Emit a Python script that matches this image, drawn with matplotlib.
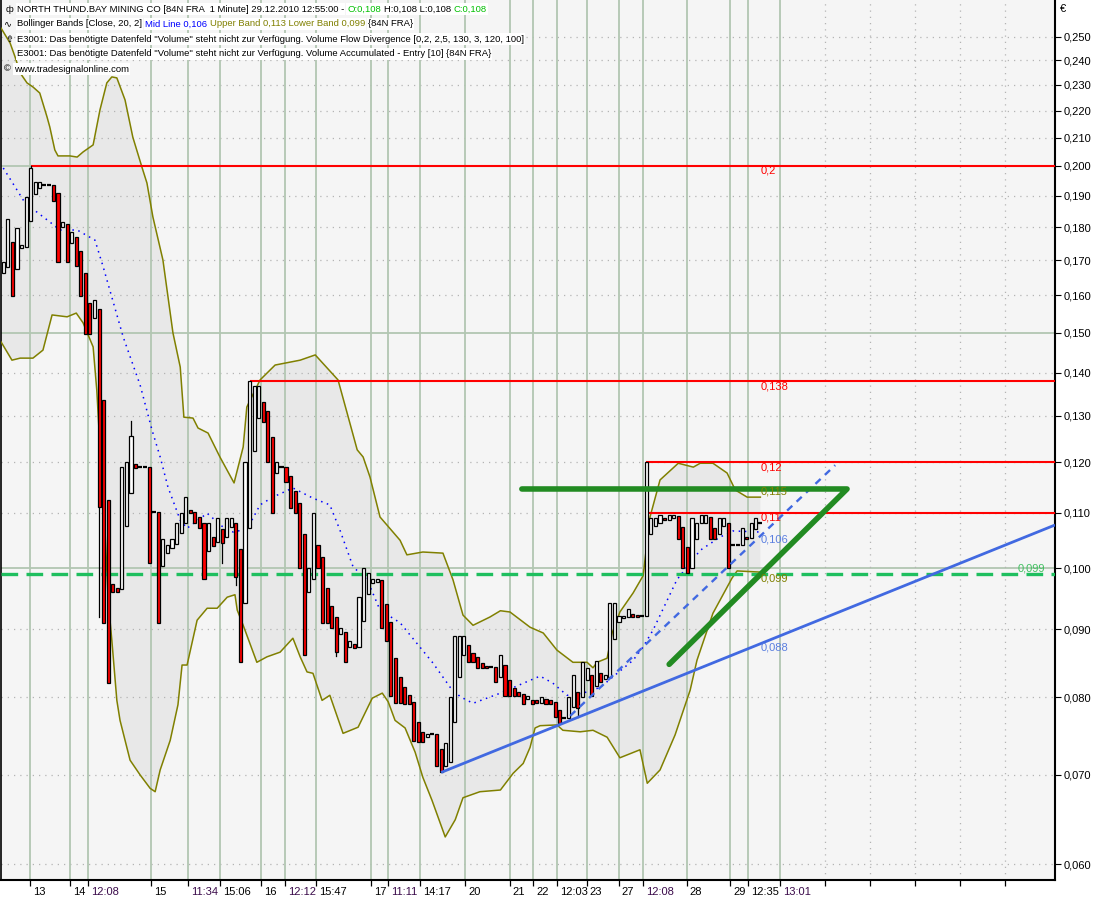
import matplotlib
matplotlib.use("Agg")
import matplotlib.pyplot as plt
from matplotlib.ticker import NullLocator, FixedLocator, FixedFormatter
from matplotlib.transforms import ScaledTranslation

plt.rcParams['font.family'] = ['Liberation Sans', 'DejaVu Sans']

# ---------------- data (bar index = 1-minute bar) ----------------
opens = [0.1663, 0.1681, 0.1755, 0.1675, 0.1737, 0.1740, 0.1819, 0.1906, 0.1926, 0.1936,
         0.1936, 0.1936, 0.1909, 0.1800, 0.1810, 0.1752, 0.1770, 0.1728, 0.1663, 0.1579,
         0.1539, 0.1563, 0.1336, 0.1124, 0.0973, 0.0966, 0.0964, 0.1075, 0.1138, 0.1196,
         0.1190, 0.1190, 0.1190, 0.1101, 0.1101, 0.1003, 0.1026, 0.1035, 0.1042, 0.1062,
         0.1081, 0.1105, 0.1101, 0.1092, 0.1081, 0.1030, 0.1055, 0.1046, 0.1070, 0.1055,
         0.1073, 0.1081, 0.1033, 0.0941, 0.1071, 0.1224, 0.1295, 0.1331, 0.1311, 0.1253,
         0.1178, 0.1190, 0.1190, 0.1172, 0.1142, 0.1119, 0.1060, 0.0959, 0.0981, 0.1040,
         0.1019, 0.0966, 0.0937, 0.0919, 0.0892, 0.0896, 0.0873, 0.0877, 0.0873, 0.0913,
         0.0956, 0.0974, 0.0977, 0.0980, 0.0940, 0.0911, 0.0856, 0.0829, 0.0814, 0.0803,
         0.0794, 0.0767, 0.0754, 0.0747, 0.0751, 0.0751, 0.0732, 0.0711, 0.0716, 0.0767,
         0.0829, 0.0861, 0.0876, 0.0863, 0.0858, 0.0849, 0.0845, 0.0843, 0.0843, 0.0829,
         0.0846, 0.0824, 0.0813, 0.0808, 0.0805, 0.0798, 0.0796, 0.0796, 0.0792, 0.0798,
         0.0796, 0.0794, 0.0783, 0.0772, 0.0772, 0.0787, 0.0808, 0.0801, 0.0824, 0.0832,
         0.0816, 0.0834, 0.0826, 0.0829, 0.0885, 0.0911, 0.0918, 0.0919, 0.0924, 0.0922,
         0.0921, 0.0921, 0.1060, 0.1075, 0.1081, 0.1090, 0.1086, 0.1090, 0.1094, 0.1073,
         0.1037, 0.1000, 0.1051, 0.1081, 0.1081, 0.1092, 0.1071, 0.1060, 0.1075, 0.1081,
         0.1040, 0.1040, 0.1040, 0.1055, 0.1053, 0.1070, 0.1081]
closes = [0.1695, 0.1825, 0.1598, 0.1797, 0.1746, 0.1896, 0.1993, 0.1946, 0.1946, 0.1936,
          0.1936, 0.1883, 0.1695, 0.1816, 0.1695, 0.1785, 0.1683, 0.1598, 0.1497, 0.1497,
          0.1587, 0.1111, 0.0910, 0.0820, 0.0959, 0.0959, 0.1190, 0.1201, 0.1256, 0.1188,
          0.1190, 0.1190, 0.1009, 0.1101, 0.0910, 0.1051, 0.1040, 0.1051, 0.1081, 0.1099,
          0.1130, 0.1099, 0.1081, 0.1071, 0.0981, 0.1081, 0.1039, 0.1090, 0.1044, 0.1090,
          0.1090, 0.0985, 0.0850, 0.1201, 0.1380, 0.1369, 0.1369, 0.1286, 0.1201, 0.1099,
          0.1201, 0.1190, 0.1160, 0.1109, 0.1099, 0.1000, 0.0861, 0.1000, 0.1099, 0.1000,
          0.0910, 0.0910, 0.0902, 0.0865, 0.0902, 0.0850, 0.0882, 0.0871, 0.0951, 0.1000,
          0.0991, 0.0981, 0.0981, 0.0902, 0.0882, 0.0802, 0.0792, 0.0792, 0.0791, 0.0791,
          0.0742, 0.0741, 0.0741, 0.0751, 0.0751, 0.0711, 0.0703, 0.0740, 0.0801, 0.0889,
          0.0889, 0.0889, 0.0850, 0.0850, 0.0842, 0.0842, 0.0842, 0.0843, 0.0822, 0.0861,
          0.0802, 0.0802, 0.0802, 0.0802, 0.0791, 0.0802, 0.0791, 0.0792, 0.0801, 0.0791,
          0.0791, 0.0773, 0.0765, 0.0772, 0.0801, 0.0832, 0.0786, 0.0850, 0.0842, 0.0802,
          0.0852, 0.0822, 0.0832, 0.0941, 0.0941, 0.0921, 0.0921, 0.0932, 0.0919, 0.0919,
          0.0921, 0.1201, 0.1090, 0.1090, 0.1096, 0.1086, 0.1096, 0.1096, 0.1051, 0.1000,
          0.0991, 0.1090, 0.1081, 0.1096, 0.1096, 0.1051, 0.1051, 0.1090, 0.1090, 0.1000,
          0.1040, 0.1040, 0.1071, 0.1051, 0.1081, 0.1090, 0.1081]
wick_hi_idx = [6, 28]
wick_hi_val = [0.2000, 0.1288]
wick_lo_idx = [21, 48, 51, 73, 126]
wick_lo_val = [0.0919, 0.1009, 0.0971, 0.0859, 0.0774]

# Bollinger Bands [Close, 20, 2] (bar index, price)
upper_x = [-0.5, 1.5, 2.6, 3.7, 5.2, 6.5, 8.0, 9.6, 10.2, 11.3, 12.0, 14.6, 16.2, 17.5, 19.7,
           21.2, 22.7, 23.8, 24.9, 26.7, 28.4, 30.4, 31.5, 32.8, 35.0, 37.2, 38.8, 39.6,
           41.6, 42.7, 44.9, 47.5, 50.6, 52.6, 53.4, 56.3, 59.6, 65.1, 68.4, 73.4, 75.4,
           77.6, 78.9, 80.4, 82.6, 87.0, 88.5, 92.0, 96.4, 98.6, 100.8, 103.0, 106.7, 109.0,
           111.1, 115.5, 118.4, 121.4, 124.9, 128.0, 129.3, 130.2, 132.4, 133.5, 135.2, 138.1,
           140.3, 141.8, 144.0, 148.0, 151.3, 152.8, 155.6, 158.7, 160.5, 163.1, 166.0]
upper_y = [0.2537, 0.2472, 0.2413, 0.2348, 0.2308, 0.2292, 0.2268, 0.2176, 0.2139, 0.2056,
           0.2035, 0.2035, 0.2031, 0.2049, 0.2074, 0.2203, 0.2308, 0.2332, 0.2328, 0.2241,
           0.2102, 0.1996, 0.1942, 0.1832, 0.1701, 0.1500, 0.1414, 0.1297, 0.1295, 0.1273,
           0.1262, 0.1211, 0.1158, 0.1232, 0.1320, 0.1383, 0.1419, 0.1431, 0.1444, 0.1383,
           0.1306, 0.1226, 0.1211, 0.1170, 0.1092, 0.1049, 0.1023, 0.1028, 0.1026, 0.0980,
           0.0922, 0.0906, 0.0919, 0.0929, 0.0927, 0.0903, 0.0894, 0.0868, 0.0850, 0.0850,
           0.0842, 0.0850, 0.0856, 0.0894, 0.0927, 0.0958, 0.0987, 0.1092, 0.1164, 0.1198,
           0.1190, 0.1198, 0.1198, 0.1178, 0.1144, 0.1130, 0.1130]
lower_x = [-0.5, 1.9, 3.7, 6.5, 8.7, 10.7, 14.0, 16.0, 17.5, 19.7, 20.5, 21.2, 22.3, 23.0,
           23.8, 24.9, 25.6, 27.8, 30.0, 32.2, 33.3, 34.4, 36.6, 38.3, 39.2, 40.3, 42.5,
           44.7, 46.9, 49.1, 50.8, 51.3, 52.6, 55.6, 57.8, 60.7, 63.5, 65.1, 66.6, 67.9,
           69.9, 71.6, 74.5, 77.8, 80.9, 83.1, 84.4, 85.9, 88.1, 90.3, 92.0, 94.0, 96.9,
           99.1, 100.8, 104.5, 109.0, 111.8, 114.0, 115.5, 116.6, 117.7, 121.4, 122.7, 126.5,
           129.3, 132.4, 135.2, 139.6, 141.2, 144.0, 147.3, 150.6, 152.1, 155.6, 159.8, 160.9,
           166.0]
lower_y = [0.1477, 0.1431, 0.1436, 0.1436, 0.1456, 0.1547, 0.1542, 0.1552, 0.1526, 0.1464,
           0.1359, 0.1232, 0.1068, 0.0946, 0.0883, 0.0796, 0.0769, 0.0718, 0.0700, 0.0684,
           0.0680, 0.0706, 0.0743, 0.0790, 0.0846, 0.0846, 0.0914, 0.0933, 0.0933, 0.0951,
           0.0955, 0.0930, 0.0906, 0.0850, 0.0858, 0.0865, 0.0886, 0.0858, 0.0836, 0.0834,
           0.0796, 0.0803, 0.0752, 0.0760, 0.0799, 0.0806, 0.0794, 0.0769, 0.0759, 0.0728,
           0.0697, 0.0670, 0.0629, 0.0648, 0.0673, 0.0680, 0.0682, 0.0702, 0.0714, 0.0734,
           0.0759, 0.0762, 0.0763, 0.0756, 0.0754, 0.0756, 0.0747, 0.0721, 0.0731, 0.0690,
           0.0706, 0.0750, 0.0810, 0.0853, 0.0925, 0.0983, 0.0995, 0.0993]
mid_x = [0, 4.8, 10.2, 12.4, 16.2, 20.1, 21.9, 26.3, 30.0, 32.6, 34.4, 36.1, 38.8, 40.3,
         44.7, 48.2, 50.4, 52.6, 54.5, 56.3, 59.1, 63.5, 67.9, 71.6, 73.8, 76.7, 79.8, 82.6,
         87.0, 94.2, 98.0, 100.2, 103.0, 109.0, 114.8, 117.7, 120.5, 123.6, 127.1, 130.9,
         134.6, 138.1, 140.3, 142.5, 147.7, 152.8, 157.2, 160.0, 166.0]
mid_y = [0.1993, 0.1876, 0.1816, 0.1791, 0.1791, 0.1760, 0.1681, 0.1489, 0.1371, 0.1269,
         0.1211, 0.1150, 0.1086, 0.1071, 0.1099, 0.1073, 0.1064, 0.1068, 0.1086, 0.1115,
         0.1130, 0.1148, 0.1128, 0.1115, 0.1068, 0.1002, 0.0980, 0.0930, 0.0910, 0.0849,
         0.0814, 0.0801, 0.0792, 0.0806, 0.0822, 0.0830, 0.0820, 0.0803, 0.0806, 0.0814,
         0.0834, 0.0853, 0.0873, 0.0899, 0.0980, 0.1031, 0.1055, 0.1066, 0.1064]

# axis ticks
xtick_pos = [5.9, 14.6, 18.6, 32.4, 40.5, 47.5, 56.5, 61.8, 68.6, 80.6, 84.4, 91.4, 101.3,
             111.1, 116.2, 121.4, 128.0, 135.0, 140.3, 149.9, 159.4, 163.3, 170.3,
             180.2, 190.1, 200.0, 209.8, 219.7]
xtick_labels = ["13", "14", "12:08", "15", "11:34", "15:06", "16", "12:12", "15:47", "17",
                "11:11", "14:17", "20", "21", "22", "12:03", "23", "27", "12:08", "28",
                "29", "12:35", "13:01", "", "", "", "", ""]
time_labels = ["12:08", "11:34", "12:12", "11:11", "13:01"]
ytick_vals = [0.06, 0.07, 0.08, 0.09, 0.10, 0.11, 0.12, 0.13, 0.14, 0.15, 0.16, 0.17,
              0.18, 0.19, 0.20, 0.21, 0.22, 0.23, 0.24, 0.25]
major_grid = [0.10, 0.15, 0.20]

# drawing tools
red_levels = [0.2, 0.138, 0.12, 0.11]
red_start = [6, 54, 141, 141]
green_level = 0.099
trend_x = [96, 230.6]
trend_y = [0.0703, 0.1077]
dash_x = [124.3, 182.4]
dash_y = [0.0775, 0.1194]
thick_x = [113.7, 185.0, 146.0]
thick_y = [0.1146, 0.1146, 0.0847]
value_labels = ["0,2", "0,138", "0,12", "0,115", "0,11", "0,106", "0,099", "0,088"]
value_pos = [0.2, 0.138, 0.12, 0.115, 0.11, 0.106, 0.099, 0.088]
value_cols = ["#ff0000", "#ff0000", "#ff0000", "#808000", "#ff0000", "#5b7fe0",
              "#808000", "#5b7fe0"]

# ---------------- figure ----------------
W, H = 1100, 900
fig = plt.figure(figsize=(W / 100, H / 100), dpi=100, facecolor="white")
ax = fig.add_axes([1 / W, 20 / H, 1054 / W, 880 / H])
ax.set_facecolor("#f5f5f5")
ax.set_yscale("log")
XMIN, XMAX = -0.5, 230.6
ax.set_xlim(XMIN, XMAX)
ax.set_ylim(0.0584, 0.26626)

last = len(closes) - 1

# Bollinger fill
poly_x = upper_x + lower_x[::-1]
poly_y = upper_y + lower_y[::-1]
ax.fill(poly_x, poly_y, color="#e8e8e8", zorder=1, lw=0)

# grid
for v in ytick_vals:
    if any(abs(v - m) < 1e-9 for m in major_grid):
        ax.axhline(v, color="#b2c6b2", lw=1.3, zorder=2)
    else:
        ax.axhline(v, color="#b4b4b4", lw=0.9, ls=(0, (1, 4)), zorder=2)
for p, lab in zip(xtick_pos, xtick_labels):
    if lab:
        ax.axvline(p, color="#b2c6b2", lw=1.3, zorder=2)
    else:
        ax.axvline(p, color="#b4b4b4", lw=0.9, ls=(0, (1, 4)), zorder=2)

# bands
ax.plot(upper_x, upper_y, color="#808000", lw=1.1, zorder=3)
ax.plot(lower_x, lower_y, color="#808000", lw=1.1, zorder=3)
ax.plot(mid_x, mid_y, color="#0000ff", lw=1.1, ls=(0, (1, 3)), zorder=3)

# red levels
for lv, s in zip(red_levels, red_start):
    ax.plot([s, XMAX], [lv, lv], color="#ff0000", lw=1.5, zorder=4,
            solid_capstyle="butt")

# green dashed level
ax.axhline(green_level, color="#1fbf5f", lw=2.4, ls=(0, (5, 2.5)), zorder=6)

# candles
wbody = 0.68
for i, (o, c) in enumerate(zip(opens, closes)):
    lo, hi = min(o, c), max(o, c)
    if i in wick_hi_idx:
        ax.plot([i, i], [hi, wick_hi_val[wick_hi_idx.index(i)]], color="black", lw=0.9, zorder=7)
    if i in wick_lo_idx:
        ax.plot([i, i], [wick_lo_val[wick_lo_idx.index(i)], lo], color="black", lw=0.9, zorder=7)
    if abs(c - o) < 1e-9:
        ax.plot([i - 0.45, i + 0.45], [o, o], color="black", lw=1.6, zorder=8,
                solid_capstyle="butt")
        continue
    face = "#ff0000" if c < o else "white"
    ax.bar(i, hi - lo, bottom=lo, width=wbody, color=face, edgecolor="black",
           linewidth=0.9, zorder=8)

# trend lines
ax.plot(trend_x, trend_y, color="#4169e1", lw=2.0, zorder=9, solid_capstyle="butt")
ax.plot(dash_x, dash_y, color="#4169e1", lw=1.7, ls=(0, (3, 2.5)), zorder=9)
ax.plot(thick_x, thick_y, color="#228b22", lw=4.0, zorder=10,
        solid_capstyle="round", solid_joinstyle="round")

# value labels
for t, v, col in zip(value_labels, value_pos, value_cols):
    ax.text(last + 0.1, v, t, color=col, fontsize=8, ha="left", va="top", zorder=11)
ax.text(222.5, green_level, "0,099", color="#40c060", fontsize=8, ha="left",
        va="bottom", zorder=11)

# axes styling
ax.spines["top"].set_visible(False)
ax.spines["left"].set_color("black")
ax.spines["left"].set_linewidth(1.2)
ax.spines["right"].set_linewidth(1.5)
ax.spines["bottom"].set_linewidth(1.5)

ax.yaxis.tick_right()
ax.yaxis.set_major_locator(FixedLocator(ytick_vals))
ax.yaxis.set_major_formatter(FixedFormatter(["0,%03d" % round(v * 1000) for v in ytick_vals]))
ax.yaxis.set_minor_locator(NullLocator())
ax.tick_params(axis="y", which="major", direction="out", length=4, width=0.8,
               labelsize=8, pad=2, colors="black")

ax.xaxis.set_major_locator(FixedLocator(xtick_pos))
ax.xaxis.set_major_formatter(FixedFormatter(xtick_labels))
ax.xaxis.set_minor_locator(NullLocator())
ax.tick_params(axis="x", which="major", direction="out", length=4, width=0.9,
               labelsize=8, pad=1)
offset = ScaledTranslation(2 / 72, 0, fig.dpi_scale_trans)
for lab in ax.get_xticklabels():
    lab.set_horizontalalignment("left")
    lab.set_transform(lab.get_transform() + offset)
    if lab.get_text() in time_labels:
        lab.set_color("#3a0a4a")

fig.text(1060 / W, 1 - 9 / H, "€", fontsize=8, va="center", ha="left")

# header legend
renderer = fig.canvas.get_renderer()
HFS = 6.8
SP = 2.8


def seg_line(x0, ypix, segments, icon=None, icon_x=5):
    if icon:
        fig.text(icon_x / W, 1 - ypix / H, icon, color="black", fontsize=HFS, ha="left",
                 va="center", zorder=20)
    x = x0
    for s, col in segments:
        if s == " ":
            x += SP
            continue
        t = fig.text(x / W, 1 - ypix / H, s, color=col, fontsize=HFS, ha="left", va="center",
                     bbox=dict(facecolor="white", edgecolor="none", pad=0.9), zorder=20)
        x += t.get_window_extent(renderer=renderer).width


seg_line(17, 9, [("NORTH THUND.BAY MINING CO [84N FRA  1 Minute] 29.12.2010 12:55:00 -", "black"),
                 (" ", None), ("O:0,108", "#00c000"), (" ", None),
                 ("H:0,108 L:0,108", "black"), (" ", None), ("C:0,108", "#00c000")],
         icon="ф", icon_x=6)
seg_line(17, 24, [("Bollinger Bands [Close, 20, 2]", "black"), (" ", None),
                  ("Mid Line 0,106", "#0000ff"), (" ", None),
                  ("Upper Band 0,113 Lower Band 0,099", "#808000"), (" ", None),
                  ("{84N FRA}", "black")], icon="∿", icon_x=4)
seg_line(17, 39, [("E3001: Das benötigte Datenfeld \"Volume\" steht nicht zur Verfügung. "
                   "Volume Flow Divergence [0,2, 2,5, 130, 3, 120, 100]", "black")],
         icon="⇮", icon_x=5)
seg_line(17, 54, [("E3001: Das benötigte Datenfeld \"Volume\" steht nicht zur Verfügung. "
                   "Volume Accumulated - Entry [10] {84N FRA}", "black")])
seg_line(14, 69, [("www.tradesignalonline.com", "black")], icon="©", icon_x=4)

fig.savefig("out.png", dpi=100, facecolor="white")
